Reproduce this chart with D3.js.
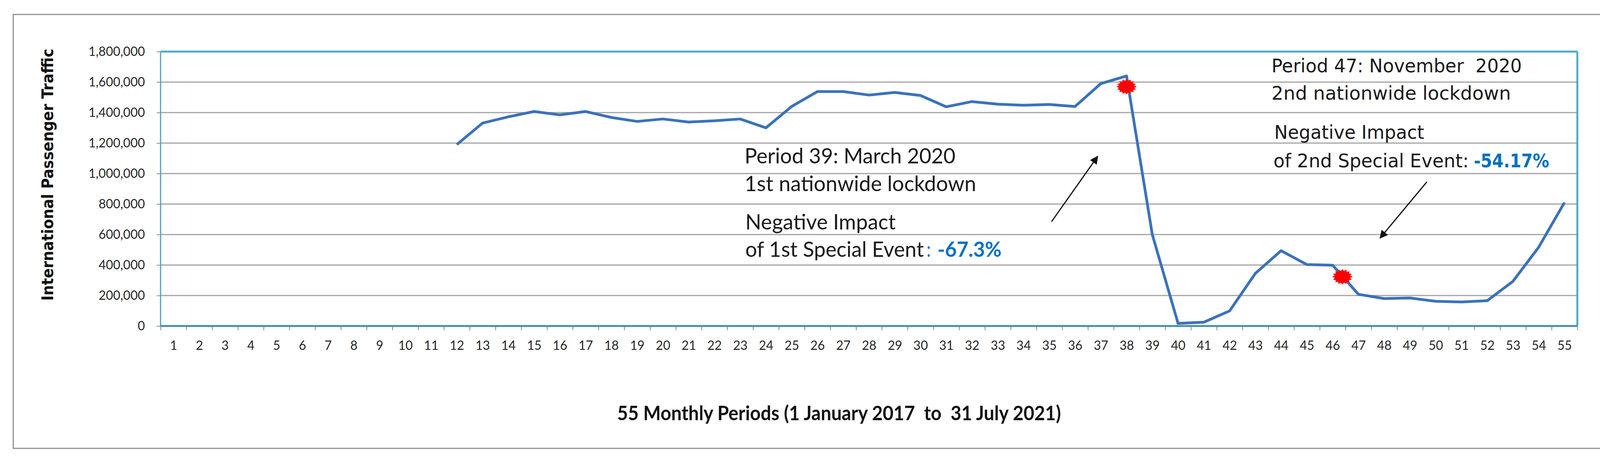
<!DOCTYPE html>
<meta charset="utf-8">
<script src="https://d3js.org/d3.v7.min.js"></script>
<style>
  html, body { margin: 0; padding: 0; background: #fff; overflow: hidden; }
  svg { display: block; }
</style>
<div id="chart"></div>
<script>
  // data
  var periods = d3.range(1, 56);
  var traffic = [
    null, null, null, null, null, null, null, null, null, null, null,
    1190000, 1331000, 1372000, 1407000, 1385000, 1407000, 1368000, 1342000,
    1358000, 1338000, 1346000, 1358000, 1300000, 1440000, 1538000, 1538000,
    1515000, 1532000, 1512000, 1438000, 1472000, 1455000, 1448000, 1453000,
    1440000, 1590000, 1640000, 600000, 17000, 25000, 99000, 345000, 494000,
    403000, 399000, 208000, 180000, 184000, 162000, 158000, 166000, 293000,
    517000, 810000
  ];
  var yTicks = [0, 200000, 400000, 600000, 800000, 1000000, 1200000, 1400000, 1600000, 1800000];
  // special event markers (period, value)
  var eventPeriods = [38, 46.38];
  var eventValues = [1570000, 323000];

  var W = 4271, H = 1187;
  var margin = {top: 132, right: 233, bottom: 353, left: 411},
      width = W - margin.left - margin.right,
      height = H - margin.top - margin.bottom;

  var svg = d3.select("#chart")
    .append("svg")
      .attr("width", W)
      .attr("height", H);

  svg.append("rect")
    .attr("width", W).attr("height", H).attr("fill", "#fff");

  // outer frame
  svg.append("rect")
    .attr("x", 34).attr("y", 37)
    .attr("width", 4208).attr("height", 1110)
    .attr("fill", "none")
    .attr("stroke", "#8f8f8f")
    .attr("stroke-width", 3);

  var g = svg.append("g")
    .attr("transform", "translate(" + margin.left + "," + margin.top + ")");

  var x = d3.scaleLinear().domain([0.5, 55.5]).range([0, width]);
  var y = d3.scaleLinear().domain([0, 1800000]).range([height, 0]);

  // gridlines
  g.append("g")
    .selectAll("line")
    .data(yTicks.filter(function (d) { return d > 0 && d < 1800000; }))
    .enter().append("line")
      .attr("x1", 0).attr("x2", width)
      .attr("y1", function (d) { return y(d); })
      .attr("y2", function (d) { return y(d); })
      .attr("stroke", "#a3a3a3")
      .attr("stroke-width", 3);

  // plot border (top, right, left)
  g.append("line").attr("x1", 0).attr("x2", width).attr("y1", 0).attr("y2", 0)
    .attr("stroke", "#4bacc6").attr("stroke-width", 5);
  g.append("line").attr("x1", width).attr("x2", width).attr("y1", 0).attr("y2", height)
    .attr("stroke", "#4bacc6").attr("stroke-width", 5);
  g.append("line").attr("x1", 0).attr("x2", 0).attr("y1", 0).attr("y2", height)
    .attr("stroke", "#4aa3bd").attr("stroke-width", 3);

  // Y axis
  var yAxis = g.append("g")
    .call(d3.axisLeft(y).tickValues(yTicks).tickSize(10).tickPadding(30)
      .tickFormat(d3.format(",")));
  yAxis.select(".domain").remove();
  yAxis.selectAll(".tick line").attr("stroke", "#8a8a8a").attr("stroke-width", 2);
  yAxis.selectAll("text")
    .attr("font-family", "'Liberation Sans Narrow', Lato, sans-serif")
    .attr("font-size", 32)
    .attr("fill", "#262626");

  // X axis: boundary ticks
  var xBound = g.append("g")
    .attr("transform", "translate(0," + height + ")")
    .call(d3.axisBottom(x).tickValues(d3.range(0.5, 56, 1)).tickSize(11).tickFormat(""));
  xBound.select(".domain").remove();
  xBound.selectAll(".tick line").attr("stroke", "#8a8a8a").attr("stroke-width", 2);

  // X axis: labels
  var xLab = g.append("g")
    .attr("transform", "translate(0," + height + ")")
    .call(d3.axisBottom(x).tickValues(periods).tickSize(0).tickPadding(38));
  xLab.select(".domain").remove();
  xLab.selectAll("text")
    .attr("font-family", "'Liberation Sans Narrow', Lato, sans-serif")
    .attr("font-size", 32)
    .attr("fill", "#262626");

  // bottom axis line
  g.append("line").attr("x1", 0).attr("x2", width).attr("y1", height).attr("y2", height)
    .attr("stroke", "#4a8fa3").attr("stroke-width", 5);

  // the series
  var series = periods.map(function (p, i) { return {period: p, value: traffic[i]}; });
  var line = d3.line()
    .defined(function (d) { return d.value != null; })
    .x(function (d) { return x(d.period); })
    .y(function (d) { return y(d.value); });

  g.append("path")
    .datum(series)
    .attr("fill", "none")
    .attr("stroke", "#3a72ba")
    .attr("stroke-width", 7)
    .attr("stroke-linejoin", "round")
    .attr("d", line);

  // red starbursts for the special events
  var starPts = d3.range(32).map(function (k) {
    return [k * Math.PI / 16, k % 2 ? 20 : 26];
  });
  var star = d3.lineRadial().curve(d3.curveLinearClosed)(starPts);
  g.selectAll(".star")
    .data(eventPeriods)
    .enter().append("path")
      .attr("class", "star")
      .attr("d", star)
      .attr("fill", "#ff0000")
      .attr("transform", function (d, i) {
        return "translate(" + x(d) + "," + y(eventValues[i]) + ") scale(1,0.76)";
      });

  // axis titles
  svg.append("text")
    .attr("transform", "translate(136,447) rotate(-90)")
    .attr("text-anchor", "middle")
    .attr("font-family", "'DejaVu Sans', sans-serif")
    .attr("font-weight", "bold")
    .attr("font-size", 40)
    .attr("textLength", 645)
    .attr("lengthAdjust", "spacingAndGlyphs")
    .attr("fill", "#111")
    .text("International Passenger Traffic");

  svg.append("text")
    .attr("x", 1580).attr("y", 1075)
    .attr("font-family", "'Liberation Sans Narrow', Lato, sans-serif")
    .attr("font-weight", "bold")
    .attr("font-size", 51)
    .attr("textLength", 1136)
    .attr("lengthAdjust", "spacingAndGlyphs")
    .attr("fill", "#111")
    .style("white-space", "pre")
    .text("55 Monthly Periods (1 January 2017  to  31 July 2021)");

  // annotations: [x, baseline, width, text, colour, bold]
  function note(family, size, d) {
    svg.append("text")
      .attr("x", d[0]).attr("y", d[1])
      .attr("font-family", family)
      .attr("font-size", size)
      .attr("font-weight", d[5] ? "bold" : "normal")
      .attr("textLength", d[2])
      .attr("lengthAdjust", "spacingAndGlyphs")
      .attr("fill", d[4] || "#1a1a1a")
      .style("white-space", "pre")
      .text(d[3]);
  }

  var f1 = "Lato, 'Open Sans', sans-serif";
  [
    [1906, 418, 540, "Period 39: March 2020"],
    [1906, 489, 593, "1st nationwide lockdown"],
    [1908, 587, 385, "Negative Impact"],
    [1908, 657, 457, "of 1st Special Event"],
    [2372, 657, 11, ":", "#0070c0"],
    [2400, 657, 164, "-67.3%", "#0070c0", true]
  ].forEach(function (d) { note(f1, 54, d); });

  var f2 = "'DejaVu Sans', Verdana, sans-serif";
  [
    [3255, 185, 641, "Period 47: November  2020"],
    [3255, 255, 613, "2nd nationwide lockdown"],
    [3262, 355, 384, "Negative Impact"],
    [3260, 428, 500, "of 2nd Special Event:"],
    [3773, 428, 193, "-54.17%", "#0070c0", true]
  ].forEach(function (d) { note(f2, 48, d); });

  // arrows
  var defs = svg.append("defs");
  defs.append("marker")
    .attr("id", "head")
    .attr("viewBox", "0 0 10 10")
    .attr("refX", 9).attr("refY", 5)
    .attr("markerWidth", 9).attr("markerHeight", 7)
    .attr("markerUnits", "strokeWidth")
    .attr("orient", "auto")
    .append("path")
      .attr("d", "M0,0 L10,5 L0,10 Z")
      .attr("fill", "#111");

  var arrows = [
    {x1: 2692, y1: 567, x2: 2810, y2: 400},
    {x1: 3653, y1: 465, x2: 3533, y2: 609}
  ];
  svg.selectAll(".arrow")
    .data(arrows)
    .enter().append("line")
      .attr("class", "arrow")
      .attr("x1", function (d) { return d.x1; })
      .attr("y1", function (d) { return d.y1; })
      .attr("x2", function (d) { return d.x2; })
      .attr("y2", function (d) { return d.y2; })
      .attr("stroke", "#111")
      .attr("stroke-width", 3)
      .attr("marker-end", "url(#head)");
</script>
